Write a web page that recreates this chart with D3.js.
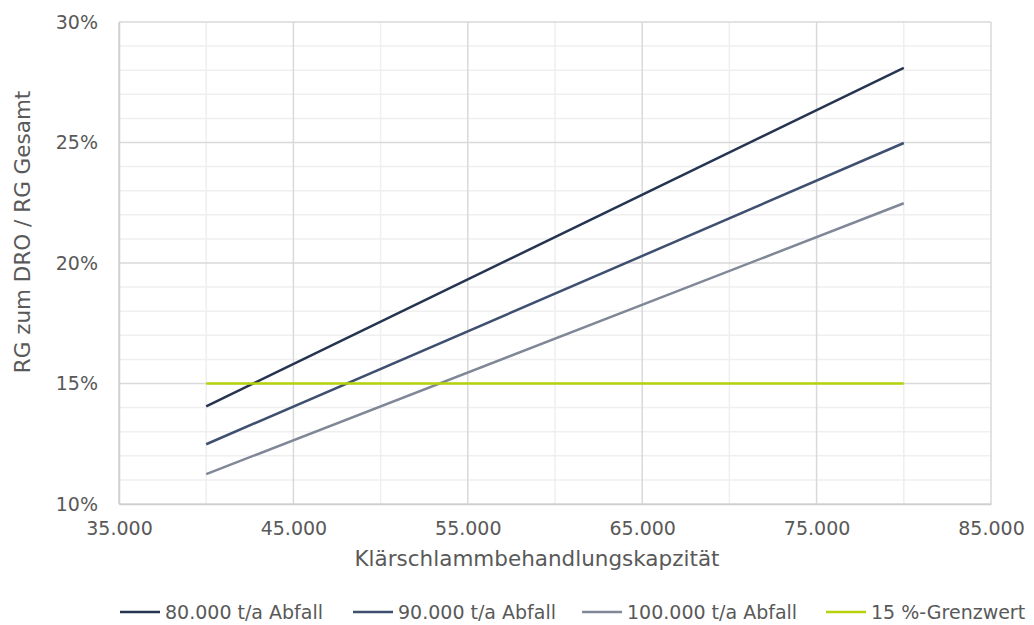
<!DOCTYPE html>
<html>
<head>
<meta charset="utf-8">
<script src="https://cdn.jsdelivr.net/npm/d3@7"></script>
<style>
  body { margin: 0; background: #fff; }
  svg { display: block; }
</style>
</head>
<body>
<div id="chart"></div>
<script>
// capacity (t/a) at which each series was read
const capacities = [40000, 80000];
const series80 = [0.1405, 0.281];
const series90 = [0.1248, 0.2498];
const series100 = [0.1124, 0.2248];
const limit15 = [0.15, 0.15];

const seriesNames = ["80.000 t/a Abfall", "90.000 t/a Abfall", "100.000 t/a Abfall", "15 %-Grenzwert"];
const seriesColors = ["#253450", "#3e4f70", "#808797", "#b5d20a"];
const xTicks = [35000, 45000, 55000, 65000, 75000, 85000];
const yTicks = [0.10, 0.15, 0.20, 0.25, 0.30];

const width = 1034, height = 625;
const margin = { top: 22, right: 43, bottom: 121, left: 119 };
const font = "DejaVu Sans, Verdana, sans-serif";
const textColor = "#595959";
const fmtX = d3.format(",.0f");

const svg = d3.select("#chart").append("svg")
    .attr("width", width)
    .attr("height", height)
    .attr("font-family", font);

const x = d3.scaleLinear().domain([35000, 85000]).range([margin.left, width - margin.right]);
const y = d3.scaleLinear().domain([0.10, 0.30]).range([height - margin.bottom, margin.top]);

// minor grid
const g = svg.append("g");
g.selectAll(".xminor").data(d3.range(40000, 85000, 10000)).join("line")
    .attr("x1", d => x(d)).attr("x2", d => x(d))
    .attr("y1", y(0.10)).attr("y2", y(0.30))
    .attr("stroke", "#efefef").attr("stroke-width", 1.5);
g.selectAll(".yminor").data(d3.range(0.11, 0.30, 0.01).filter(d => Math.round(d * 100) % 5 !== 0)).join("line")
    .attr("x1", x(35000)).attr("x2", x(85000))
    .attr("y1", d => y(d)).attr("y2", d => y(d))
    .attr("stroke", "#efefef").attr("stroke-width", 1.5);

// major grid
g.selectAll(".xmajor").data(xTicks).join("line")
    .attr("x1", d => x(d)).attr("x2", d => x(d))
    .attr("y1", y(0.10)).attr("y2", y(0.30))
    .attr("stroke", "#d9d9d9").attr("stroke-width", 1.5);
g.selectAll(".ymajor").data(yTicks).join("line")
    .attr("x1", x(35000)).attr("x2", x(85000))
    .attr("y1", d => y(d)).attr("y2", d => y(d))
    .attr("stroke", "#d9d9d9").attr("stroke-width", 1.5);

// axes
const xAxis = svg.append("g")
    .attr("transform", `translate(0, ${y(0.10)})`)
    .call(d3.axisBottom(x).tickValues(xTicks).tickSize(0).tickPadding(18)
        .tickFormat(d => fmtX(d).replace(/,/g, ".")))
    .attr("font-family", font).attr("font-size", 19);
xAxis.select(".domain").attr("stroke", "#cfcfcf").attr("stroke-width", 1.5);
xAxis.selectAll("text").attr("fill", textColor);

const yAxis = svg.append("g")
    .attr("transform", `translate(${x(35000)}, 0)`)
    .call(d3.axisLeft(y).tickValues(yTicks).tickSize(0).tickPadding(21)
        .tickFormat(d => Math.round(d * 100) + "%"))
    .attr("font-family", font).attr("font-size", 19);
yAxis.select(".domain").attr("stroke", "#cfcfcf").attr("stroke-width", 1.5);
yAxis.selectAll("text").attr("fill", textColor);

// axis titles
svg.append("text")
    .attr("x", 537).attr("y", 566)
    .attr("text-anchor", "middle")
    .attr("fill", textColor).attr("font-size", 21.5)
    .text("Klärschlammbehandlungskapzität");
svg.append("text")
    .attr("transform", "translate(30, 232) rotate(-90)")
    .attr("text-anchor", "middle")
    .attr("fill", textColor).attr("font-size", 21.5)
    .text("RG zum DRO / RG Gesamt");

// lines
const allSeries = [series80, series90, series100, limit15];
const line = d3.line().x((d, i) => x(capacities[i])).y(d => y(d));
svg.append("g").selectAll("path").data(allSeries).join("path")
    .attr("d", d => line(d))
    .attr("fill", "none")
    .attr("stroke", (d, i) => seriesColors[i])
    .attr("stroke-width", 2.5);

// legend
const legendX = [120, 353, 582, 826];
const legend = svg.append("g").selectAll("g").data(seriesNames).join("g")
    .attr("transform", (d, i) => `translate(${legendX[i]}, 612)`);
legend.append("line")
    .attr("x1", 0).attr("x2", 40)
    .attr("stroke", (d, i) => seriesColors[i]).attr("stroke-width", 2.5);
legend.append("text")
    .attr("x", 45).attr("dy", "0.35em")
    .attr("fill", textColor).attr("font-size", 19)
    .text(d => d);
</script>
</body>
</html>
